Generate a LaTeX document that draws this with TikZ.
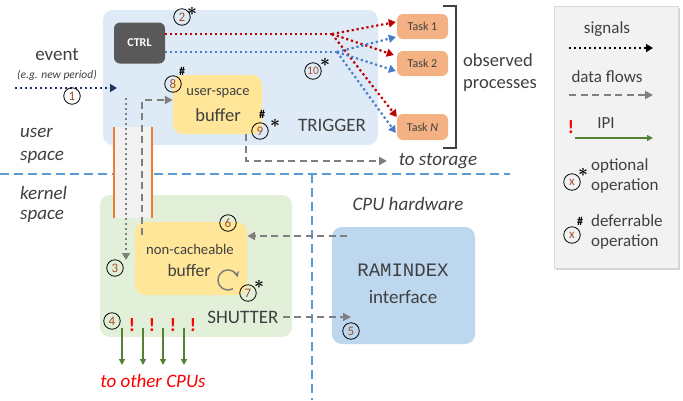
\documentclass[tikz,border=0pt]{standalone}
\usepackage{amsmath}
\usepackage{fontspec}
\setmainfont{Carlito}
\setmonofont{Liberation Mono}
\usepackage{xcolor}
\usetikzlibrary{arrows.meta, positioning, calc, shadows}

\definecolor{trigbg}{HTML}{DEEBF7}
\definecolor{shutbg}{HTML}{E2F0D9}
\definecolor{bufyellow}{HTML}{FFE699}
\definecolor{taskorange}{HTML}{F4B183}
\definecolor{ramblue}{HTML}{BDD7EE}
\definecolor{ctrlgrey}{HTML}{595959}
\definecolor{legendbg}{HTML}{F2F2F2}
\definecolor{txtgrey}{HTML}{404040}
\definecolor{numbrown}{HTML}{A0522D}
\definecolor{navy}{HTML}{1F3864}
\definecolor{sigred}{HTML}{C00000}
\definecolor{sigblue}{HTML}{4A7CC9}
\definecolor{flowgrey}{HTML}{7F7F7F}
\definecolor{ipigreen}{HTML}{548235}
\definecolor{borderblue}{HTML}{5B9BD5}
\definecolor{chanorange}{HTML}{ED7D31}

\tikzset{
  bgbox/.style={rounded corners=10pt, inner sep=0pt},
  numcirc/.style={circle, draw=black, line width=0.8pt, minimum size=16.5pt, inner sep=0pt,
    text=numbrown, font=\fontsize{13}{13}\selectfont},
  optmark/.style={text=black, inner sep=0pt, font=\fontsize{19}{19}\selectfont},
  defmark/.style={text=black, inner sep=0pt, font=\bfseries\fontsize{12}{12}\selectfont},
  sig/.style={line width=2.2pt, dash pattern=on 2.2pt off 2.8pt, -{Triangle[length=7pt,width=8pt]}},
  flow/.style={draw=flowgrey, line width=2.4pt, dash pattern=on 7pt off 4.5pt, -{Triangle[length=8pt,width=8pt]}},
  ipi/.style={draw=ipigreen, line width=1.3pt, -{Triangle[length=6pt,width=6pt]}},
  border/.style={draw=borderblue, line width=1.3pt, dash pattern=on 9pt off 5pt},
  lbl/.style={text=txtgrey, inner sep=0pt, font=\fontsize{19}{21}\selectfont},
  side/.style={text=txtgrey, inner sep=0pt, anchor=west, font=\itshape\fontsize{19}{21}\selectfont},
  legtxt/.style={text=txtgrey, inner sep=0pt, font=\fontsize{17}{19}\selectfont},
  bang/.style={text=red, inner sep=0pt, font=\bfseries\fontsize{19}{19}\selectfont},
}

\begin{document}
\begin{tikzpicture}[x=1pt, y=-1pt]
  \fill[white] (0,0) rectangle (683,400);
  \useasboundingbox (0,0) rectangle (683,400);

  % regions
  \node[bgbox, fill=trigbg, minimum width=275pt, minimum height=135pt] (trigger) at (240.5,77.5) {};
  \node[bgbox, fill=shutbg, minimum width=192pt, minimum height=142pt] (shutter) at (196,266) {};
  \node[bgbox, fill=ramblue, minimum width=143pt, minimum height=117pt] (ramindex) at (403.5,285.5) {};

  % user/kernel boundary
  \draw[border] (0,174) -- (510,174);
  \draw[border] (312,174) -- (312,400);

  % syscall channel
  \fill[legendbg] (114,127) rectangle (152,218);
  \draw[chanorange, line width=1.3pt] (114,127) -- (114,218) (152,127) -- (152,218);

  % trigger parts
  \node[bgbox, rounded corners=6pt, fill=ctrlgrey, minimum width=51pt, minimum height=41pt,
    text=white, font=\bfseries\fontsize{12}{12}\selectfont] (ctrl) at (139.5,43) {CTRL};
  \node[bgbox, fill=bufyellow, minimum width=89pt, minimum height=59pt] (ubuf) at (217.5,104.5) {};
  \node[lbl, font=\fontsize{14.5}{16}\selectfont] (ubuf1) at (218,93) {user-space};
  \node[lbl, font=\fontsize{18.5}{20}\selectfont] (ubuf2) at (218,115) {buffer};
  \node[lbl] (trigtxt) at (332,125) {TRIGGER};

  \node[bgbox, rounded corners=6pt, fill=taskorange, minimum width=51pt, minimum height=25pt,
    text=txtgrey, font=\fontsize{12}{12}\selectfont] (task1) at (422.5,26.5) {Task 1};
  \node[bgbox, rounded corners=6pt, fill=taskorange, minimum width=51pt, minimum height=25pt,
    text=txtgrey, font=\fontsize{12}{12}\selectfont] (task2) at (422.5,63.5) {Task 2};
  \node[bgbox, rounded corners=6pt, fill=taskorange, minimum width=51pt, minimum height=26pt,
    text=txtgrey, font=\fontsize{12}{12}\selectfont] (taskn) at (422.5,127) {Task \textit{N}};

  \draw[txtgrey, line width=1.5pt] (443,6) -- (456,6) -- (456,148) -- (443,148);
  \node[lbl, anchor=west, align=left, font=\fontsize{18.5}{22}\selectfont] (observed) at (463,73)
    {observed\\processes};

  % shutter parts
  \node[bgbox, fill=bufyellow, minimum width=112pt, minimum height=73pt] (ncbuf) at (191,258.5) {};
  \node[lbl, font=\fontsize{14.7}{16}\selectfont] (ncbuf1) at (190,249) {non-cacheable};
  \node[lbl, font=\fontsize{17.5}{19}\selectfont] (ncbuf2) at (189,270) {buffer};
  \draw[flowgrey, line width=1.5pt, -{Stealth[length=6pt,width=6pt]}] (228,280) ++(60:10) arc (60:345:10);
  \node[lbl] (shuttxt) at (243,317) {SHUTTER};

  \node[text=txtgrey, inner sep=0pt, font=\ttfamily\fontsize{19}{21}\selectfont] (ram1) at (403,270) {RAMINDEX};
  \node[lbl] (ram2) at (403,297) {interface};

  % labels
  \node[lbl] (event) at (57,55) {event};
  \node[text=txtgrey, inner sep=0pt, font=\itshape\fontsize{11.5}{12}\selectfont] (eventsub) at (57,75) {(e.g. new period)};
  \node[side] (user1) at (20,133) {user};
  \node[side] (user2) at (20,157) {space};
  \node[side] (kern1) at (20,193) {kernel};
  \node[side] (kern2) at (20,216) {space};
  \node[side, anchor=center] (cpuhw) at (408,204) {CPU hardware};
  \node[side, anchor=center] (storage) at (438,161) {to storage};
  \node[side, anchor=center, text=red] (othercpu) at (153,381) {to other CPUs};

  % signals
  \coordinate (evstart) at (15,88);
  \coordinate (evend) at (117,88);
  \draw[sig, navy] (evstart) -- (evend);

  \coordinate (redsplit) at (332,34);
  \coordinate (bluesplit) at (337,52);
  \draw[sigred, line width=2.2pt, dash pattern=on 2.2pt off 2.8pt] (ctrl.east |- redsplit) -- (redsplit);
  \draw[sigblue, line width=2.2pt, dash pattern=on 2.2pt off 2.8pt] (ctrl.east |- bluesplit) -- (bluesplit);
  \draw[sig, sigred] (redsplit) -- ($(task1.west)+(-1,-4.5)$);
  \draw[sig, sigred] (redsplit) -- ($(task2.west)+(-3,-8.5)$);
  \draw[sig, sigred] (redsplit) -- ($(taskn.west)+(0,-10)$);
  \draw[sig, sigblue] (bluesplit) -- ($(task1.west)+(-1,10.5)$);
  \draw[sig, sigblue] (bluesplit) -- ($(task2.west)+(-1,7.5)$);
  \draw[sig, sigblue] (bluesplit) -- ($(taskn.west)+(-1,6)$);

  \draw[sig, flowgrey] (126,98) -- (126,260);

  % data flows
  \draw[flow] (142,235) |- (ubuf.west |- 0,100);
  \draw[flow] (246,134) |- (387,161);
  \draw[flow] (347,236) -- (ncbuf.east |- 0,236);
  \draw[flow] (shuttxt.east) ++(4,0) -- (351,317);

  % IPIs
  \foreach \x/\b in {122/132, 143/152, 163/173, 184/193} {
    \draw[ipi] (\x,328) -- (\x,365);
    \node[bang] at (\b,325) {!};
  }

  % operations
  \node[numcirc] (op1) at (72,96) {1};
  \node[numcirc] (op2) at (182,17) {2};
  \node[optmark] at (192,11) {$\boldsymbol{\ast}$};
  \node[numcirc] (op3) at (115,268) {3};
  \node[numcirc] (op4) at (112,321) {4};
  \node[numcirc] (op5) at (351,331) {5};
  \node[numcirc] (op6) at (228,223) {6};
  \node[numcirc] (op7) at (248,293) {7};
  \node[optmark] at (259,284) {$\boldsymbol{\ast}$};
  \node[numcirc] (op8) at (173,84) {8};
  \node[defmark] at (182,71) {\#};
  \node[numcirc] (op9) at (260,131) {9};
  \node[defmark] at (262,114) {\#};
  \node[optmark] at (275,123) {$\boldsymbol{\ast}$};
  \node[numcirc, font=\fontsize{11.5}{11.5}\selectfont] (op10) at (313,71) {10};
  \node[optmark] at (325,62) {$\boldsymbol{\ast}$};

  % legend
  \node[draw=black!15, fill=legendbg, minimum width=124pt, minimum height=262pt, inner sep=0pt,
    drop shadow={shadow xshift=2pt, shadow yshift=-2pt, opacity=0.35}] (legend) at (616,137) {};
  \node[legtxt] (lsig) at (607,29) {signals};
  \coordinate (lsigA) at (569,48);
  \coordinate (lsigB) at (653,48);
  \draw[sig, black] (lsigA) -- (lsigB);
  \node[legtxt] (lflow) at (607,77) {data flows};
  \coordinate (lflowA) at (569,95);
  \coordinate (lflowB) at (653,95);
  \draw[flow] (lflowA) -- (lflowB);
  \node[bang] (lbang) at (571,127) {!};
  \node[legtxt] (lipi) at (606,123) {IPI};
  \coordinate (lipiA) at (575,138);
  \coordinate (lipiB) at (653,138);
  \draw[ipi] (lipiA) -- (lipiB);
  \node[numcirc] (lopt) at (572,182) {x};
  \node[optmark] at (583,172) {$\boldsymbol{\ast}$};
  \node[legtxt, anchor=west, align=left, font=\fontsize{17}{20}\selectfont] (loptxt) at (591,176) {optional\\operation};
  \node[numcirc] (ldef) at (572,235) {x};
  \node[defmark] at (580,221) {\#};
  \node[legtxt, anchor=west, align=left, font=\fontsize{17}{20}\selectfont] (ldeftxt) at (591,232) {deferrable\\operation};
\end{tikzpicture}
\end{document}
